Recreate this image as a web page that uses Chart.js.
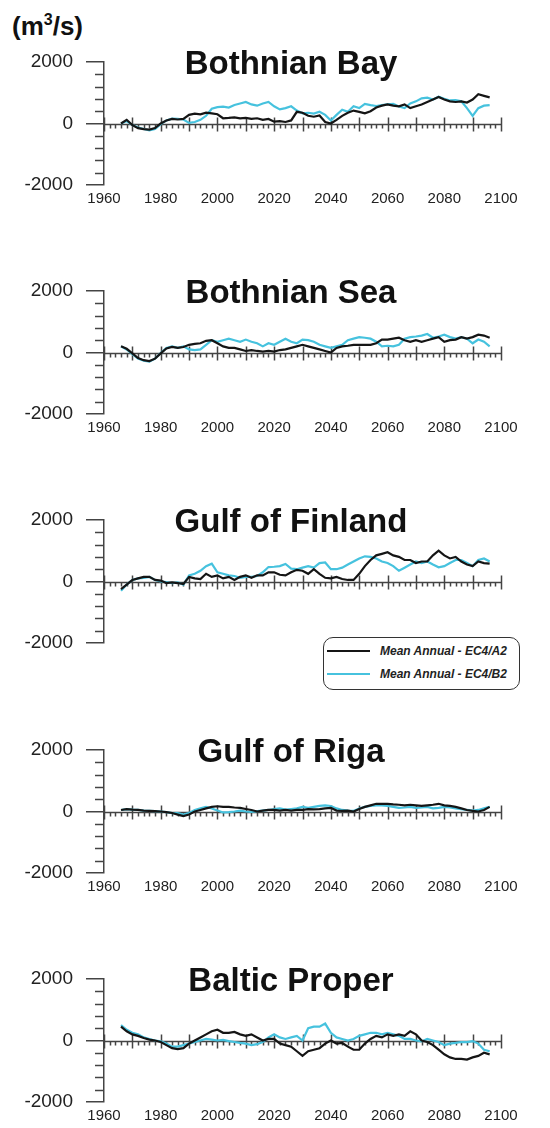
<!DOCTYPE html>
<html><head><meta charset="utf-8">
<script src="https://cdn.jsdelivr.net/npm/chart.js@4.4.1/dist/chart.umd.min.js"></script>
<style>
html,body{margin:0;padding:0;background:#fff;}
body{width:550px;height:1128px;position:relative;overflow:hidden;font-family:'Liberation Sans',Arial,sans-serif;}
.panel{position:absolute;left:0;width:550px;height:211px;}
.panel canvas{position:absolute;left:0;top:0;}
.title{position:absolute;left:91px;width:400px;text-align:center;font-weight:bold;font-size:33px;line-height:33px;color:#111;white-space:nowrap;}
.unit{position:absolute;left:12px;top:13px;font-weight:bold;font-size:26px;line-height:26px;color:#111;}
.unit sup{font-size:16px;vertical-align:10px;line-height:0;}
.legend{position:absolute;left:323px;top:637px;width:197px;height:53px;box-sizing:border-box;border:1.5px solid #333;border-radius:10px;background:#fff;}
.legend .row{position:absolute;left:0;width:100%;height:20px;}
.legend .sw{position:absolute;left:3px;top:9px;width:43px;height:2px;}
.legend .tx{position:absolute;left:56px;top:2px;font-style:italic;font-weight:bold;font-size:12px;line-height:16px;color:#222;white-space:nowrap;}
</style></head>
<body>
<div class="unit">(m<sup>3</sup>/s)</div>
<div class="legend" id="legend"></div>
<script>
// ---------- data ----------
const years = [1966,1968,1970,1972,1974,1976,1978,1980,1982,1984,
  1986,1988,1990,1992,1994,1996,1998,2000,2002,2004,
  2006,2008,2010,2012,2014,2016,2018,2020,2022,2024,
  2026,2028,2030,2032,2034,2036,2038,2040,2042,2044,
  2046,2048,2050,2052,2054,2056,2058,2060,2062,2064,
  2066,2068,2070,2072,2074,2076,2078,2080,2082,2084,
  2086,2088,2090,2092,2094,2096];

const seriesNames = ['Mean Annual - EC4/A2', 'Mean Annual - EC4/B2'];
const panelTitles = ['Bothnian Bay', 'Bothnian Sea', 'Gulf of Finland', 'Gulf of Riga', 'Baltic Proper'];
const xTickLabels = ['1960','1980','2000','2020','2040','2060','2080','2100'];
const yTickLabels = ['-2000','0','2000'];

const bothnianBayA2 = [0,120,-50,-150,-180,-200,-150,0,100,150,
  130,150,280,320,300,350,330,300,170,180,
  200,170,180,150,170,120,150,60,80,50,
  100,380,350,250,220,260,50,0,120,250,
  350,420,380,330,400,520,580,620,580,560,
  620,500,560,620,700,780,860,780,720,700,
  720,680,780,950,900,850];
const bothnianBayB2 = [0,80,-50,-130,-180,-220,-180,-20,100,160,
  150,130,20,50,120,250,480,530,550,520,
  600,650,700,620,580,650,700,560,460,500,
  560,420,330,350,320,380,280,100,280,450,
  380,560,500,640,600,570,600,620,640,550,
  500,650,720,820,840,780,870,800,750,760,
  720,500,250,500,580,600];

const bothnianSeaA2 = [200,120,-30,-180,-250,-280,-200,-30,130,180,
  150,180,250,280,300,380,400,300,200,150,
  150,100,50,80,50,30,50,30,80,100,
  150,200,250,200,150,100,50,0,150,200,
  220,250,250,250,250,300,420,420,450,480,
  400,350,400,350,400,450,500,350,400,420,
  500,450,500,580,550,480];
const bothnianSeaB2 = [200,100,-50,-200,-270,-300,-200,-20,150,200,
  150,200,100,80,100,250,400,350,400,450,
  400,350,420,350,300,200,300,250,350,450,
  350,300,420,400,350,250,200,150,200,250,
  400,450,500,480,450,350,200,220,200,250,
  450,500,520,550,600,480,520,580,500,450,
  500,450,300,420,350,200];

const gulfOfFinlandA2 = [-250,-100,50,100,150,150,50,30,-50,-30,
  -50,-80,150,100,80,250,150,200,100,150,
  50,150,200,120,200,200,300,300,220,200,
  300,380,350,250,400,250,120,100,150,80,
  50,50,250,500,700,850,900,950,850,800,
  700,700,600,650,650,850,1000,850,750,800,
  650,550,500,650,600,580];
const gulfOfFinlandB2 = [-300,-100,50,100,120,150,50,0,-20,-50,
  -30,-100,200,250,350,500,580,300,250,200,
  180,120,150,150,180,300,470,480,500,570,
  420,400,450,500,450,600,620,400,400,450,
  550,650,750,820,800,750,650,600,500,350,
  450,550,650,600,650,550,460,500,600,700,
  700,600,500,700,750,650];

const gulfOfRigaA2 = [50,80,60,50,30,20,10,0,-20,-50,
  -100,-150,-100,0,50,100,150,170,150,150,
  130,120,80,50,0,30,50,50,30,50,
  30,50,50,80,70,80,100,120,30,20,
  30,0,80,150,200,250,250,250,230,220,
  200,220,200,180,200,220,250,200,180,150,
  100,50,20,0,50,150];
const gulfOfRigaB2 = [50,80,60,50,30,20,10,0,-20,-50,
  -50,-100,-50,50,100,150,100,30,-30,-20,
  0,30,0,-10,10,30,50,80,100,60,
  80,100,150,120,150,180,200,180,100,50,
  30,20,100,150,180,200,200,180,150,120,
  130,150,120,130,150,100,120,150,130,100,
  80,50,30,50,100,150];

const balticProperA2 = [450,300,200,150,80,30,0,-50,-150,-250,
  -280,-250,-100,0,100,200,300,350,250,250,
  280,200,150,200,100,0,50,50,-100,-150,
  -200,-350,-500,-350,-300,-250,-100,0,-100,-80,
  -200,-300,-300,-100,50,150,100,200,150,200,
  150,300,200,0,-50,-150,-300,-450,-550,-600,
  -600,-620,-550,-500,-400,-450];
const balticProperB2 = [500,350,250,200,100,50,0,-30,-100,-200,
  -200,-150,-100,-50,0,50,30,0,20,-20,
  -50,-80,-100,-150,-120,-50,100,200,100,50,
  100,150,0,400,450,450,550,250,100,50,
  0,50,150,200,250,250,200,250,200,150,
  50,50,0,-30,50,0,-50,-150,-100,-80,
  -50,-50,-20,-100,-300,-350];

const panelA2 = [bothnianBayA2, bothnianSeaA2, gulfOfFinlandA2, gulfOfRigaA2, balticProperA2];
const panelB2 = [bothnianBayB2, bothnianSeaB2, gulfOfFinlandB2, gulfOfRigaB2, balticProperB2];

// ---------- style ----------
const COLOR_A2 = '#151515';
const COLOR_B2 = '#46c2de';
const AXIS = '#444';
const TEXT = '#222';
const FONT = "'Liberation Sans', Arial, sans-serif";
const X_MIN = 1960, X_MAX = 2100, Y_MIN = -2000, Y_MAX = 2000;
const panelTops = [0, 229, 458, 688, 917];
const showXLabels = [true, true, false, true, true];

const zeroAxis = {
  id: 'zeroAxis',
  beforeDatasetsDraw(chart) {
    const {ctx, scales: {x, y}} = chart;
    const y0 = Math.round(y.getPixelForValue(0)) + 0.5;
    ctx.save();
    ctx.strokeStyle = AXIS;
    ctx.lineWidth = 1.5;
    ctx.beginPath();
    ctx.moveTo(x.getPixelForValue(X_MIN), y0);
    ctx.lineTo(x.getPixelForValue(X_MAX), y0);
    for (let yr = X_MIN; yr <= X_MAX; yr += 2) {
      const px = Math.round(x.getPixelForValue(yr)) + 0.5;
      if ((yr - X_MIN) % 10 === 0) { ctx.moveTo(px, y0 - 7); ctx.lineTo(px, y0 + 7); }
      else { ctx.moveTo(px, y0); ctx.lineTo(px, y0 + 4); }
    }
    const left = x.getPixelForValue(X_MIN);
    for (let v = Y_MIN + 400; v < Y_MAX; v += 400) {
      if (v === 0) continue;
      const py = Math.round(y.getPixelForValue(v)) + 0.5;
      ctx.moveTo(left - 9, py); ctx.lineTo(left, py);
    }
    ctx.stroke();
    ctx.restore();
  }
};

panelTitles.forEach((title, i) => {
  const div = document.createElement('div');
  div.className = 'panel';
  div.style.top = panelTops[i] + 'px';
  const canvas = document.createElement('canvas');
  canvas.width = 550; canvas.height = 211;
  div.appendChild(canvas);
  const t = document.createElement('div');
  t.className = 'title';
  t.style.top = '46px';
  t.textContent = title;
  div.appendChild(t);
  document.body.insertBefore(div, document.getElementById('legend'));

  const toXY = arr => arr.map((v, k) => ({x: years[k], y: v}));
  new Chart(canvas, {
    type: 'line',
    data: {
      datasets: [
        {label: seriesNames[0], data: toXY(panelA2[i]), borderColor: COLOR_A2, borderWidth: 2.2, pointRadius: 0, tension: 0},
        {label: seriesNames[1], data: toXY(panelB2[i]), borderColor: COLOR_B2, borderWidth: 2.2, pointRadius: 0, tension: 0}
      ]
    },
    options: {
      responsive: false, animation: false, devicePixelRatio: 1,
      layout: {padding: {top: 62, right: 49, bottom: 0, left: 0}},
      plugins: {legend: {display: false}, title: {display: false}, tooltip: {enabled: false}},
      scales: {
        x: {
          type: 'linear', position: 'bottom', min: X_MIN, max: X_MAX,
          afterFit: s => { s.height = 26; },
          border: {display: false},
          grid: {display: false, drawTicks: false},
          ticks: {
            display: showXLabels[i], stepSize: 20, autoSkip: false, maxRotation: 0, padding: 5,
            color: TEXT, font: {family: FONT, size: 15},
            callback: v => xTickLabels[(v - X_MIN) / 20] ?? ''
          }
        },
        y: {
          min: Y_MIN, max: Y_MAX,
          afterFit: s => { s.width = 104; },
          border: {display: true, color: AXIS, width: 1.5},
          grid: {drawOnChartArea: false, drawTicks: true, tickLength: 18, color: AXIS, lineWidth: 1.5},
          ticks: {
            stepSize: 2000, padding: 13, color: TEXT, font: {family: FONT, size: 19},
            callback: v => yTickLabels[(v - Y_MIN) / 2000] ?? ''
          }
        }
      }
    },
    plugins: [zeroAxis]
  });
});

// legend
const legend = document.getElementById('legend');
[COLOR_A2, COLOR_B2].forEach((c, k) => {
  const row = document.createElement('div');
  row.className = 'row';
  row.style.top = (3 + k * 23) + 'px';
  row.innerHTML = '<span class="sw" style="background:' + c + '"></span><span class="tx"></span>';
  row.querySelector('.tx').textContent = seriesNames[k];
  legend.appendChild(row);
});
</script>
</body></html>
